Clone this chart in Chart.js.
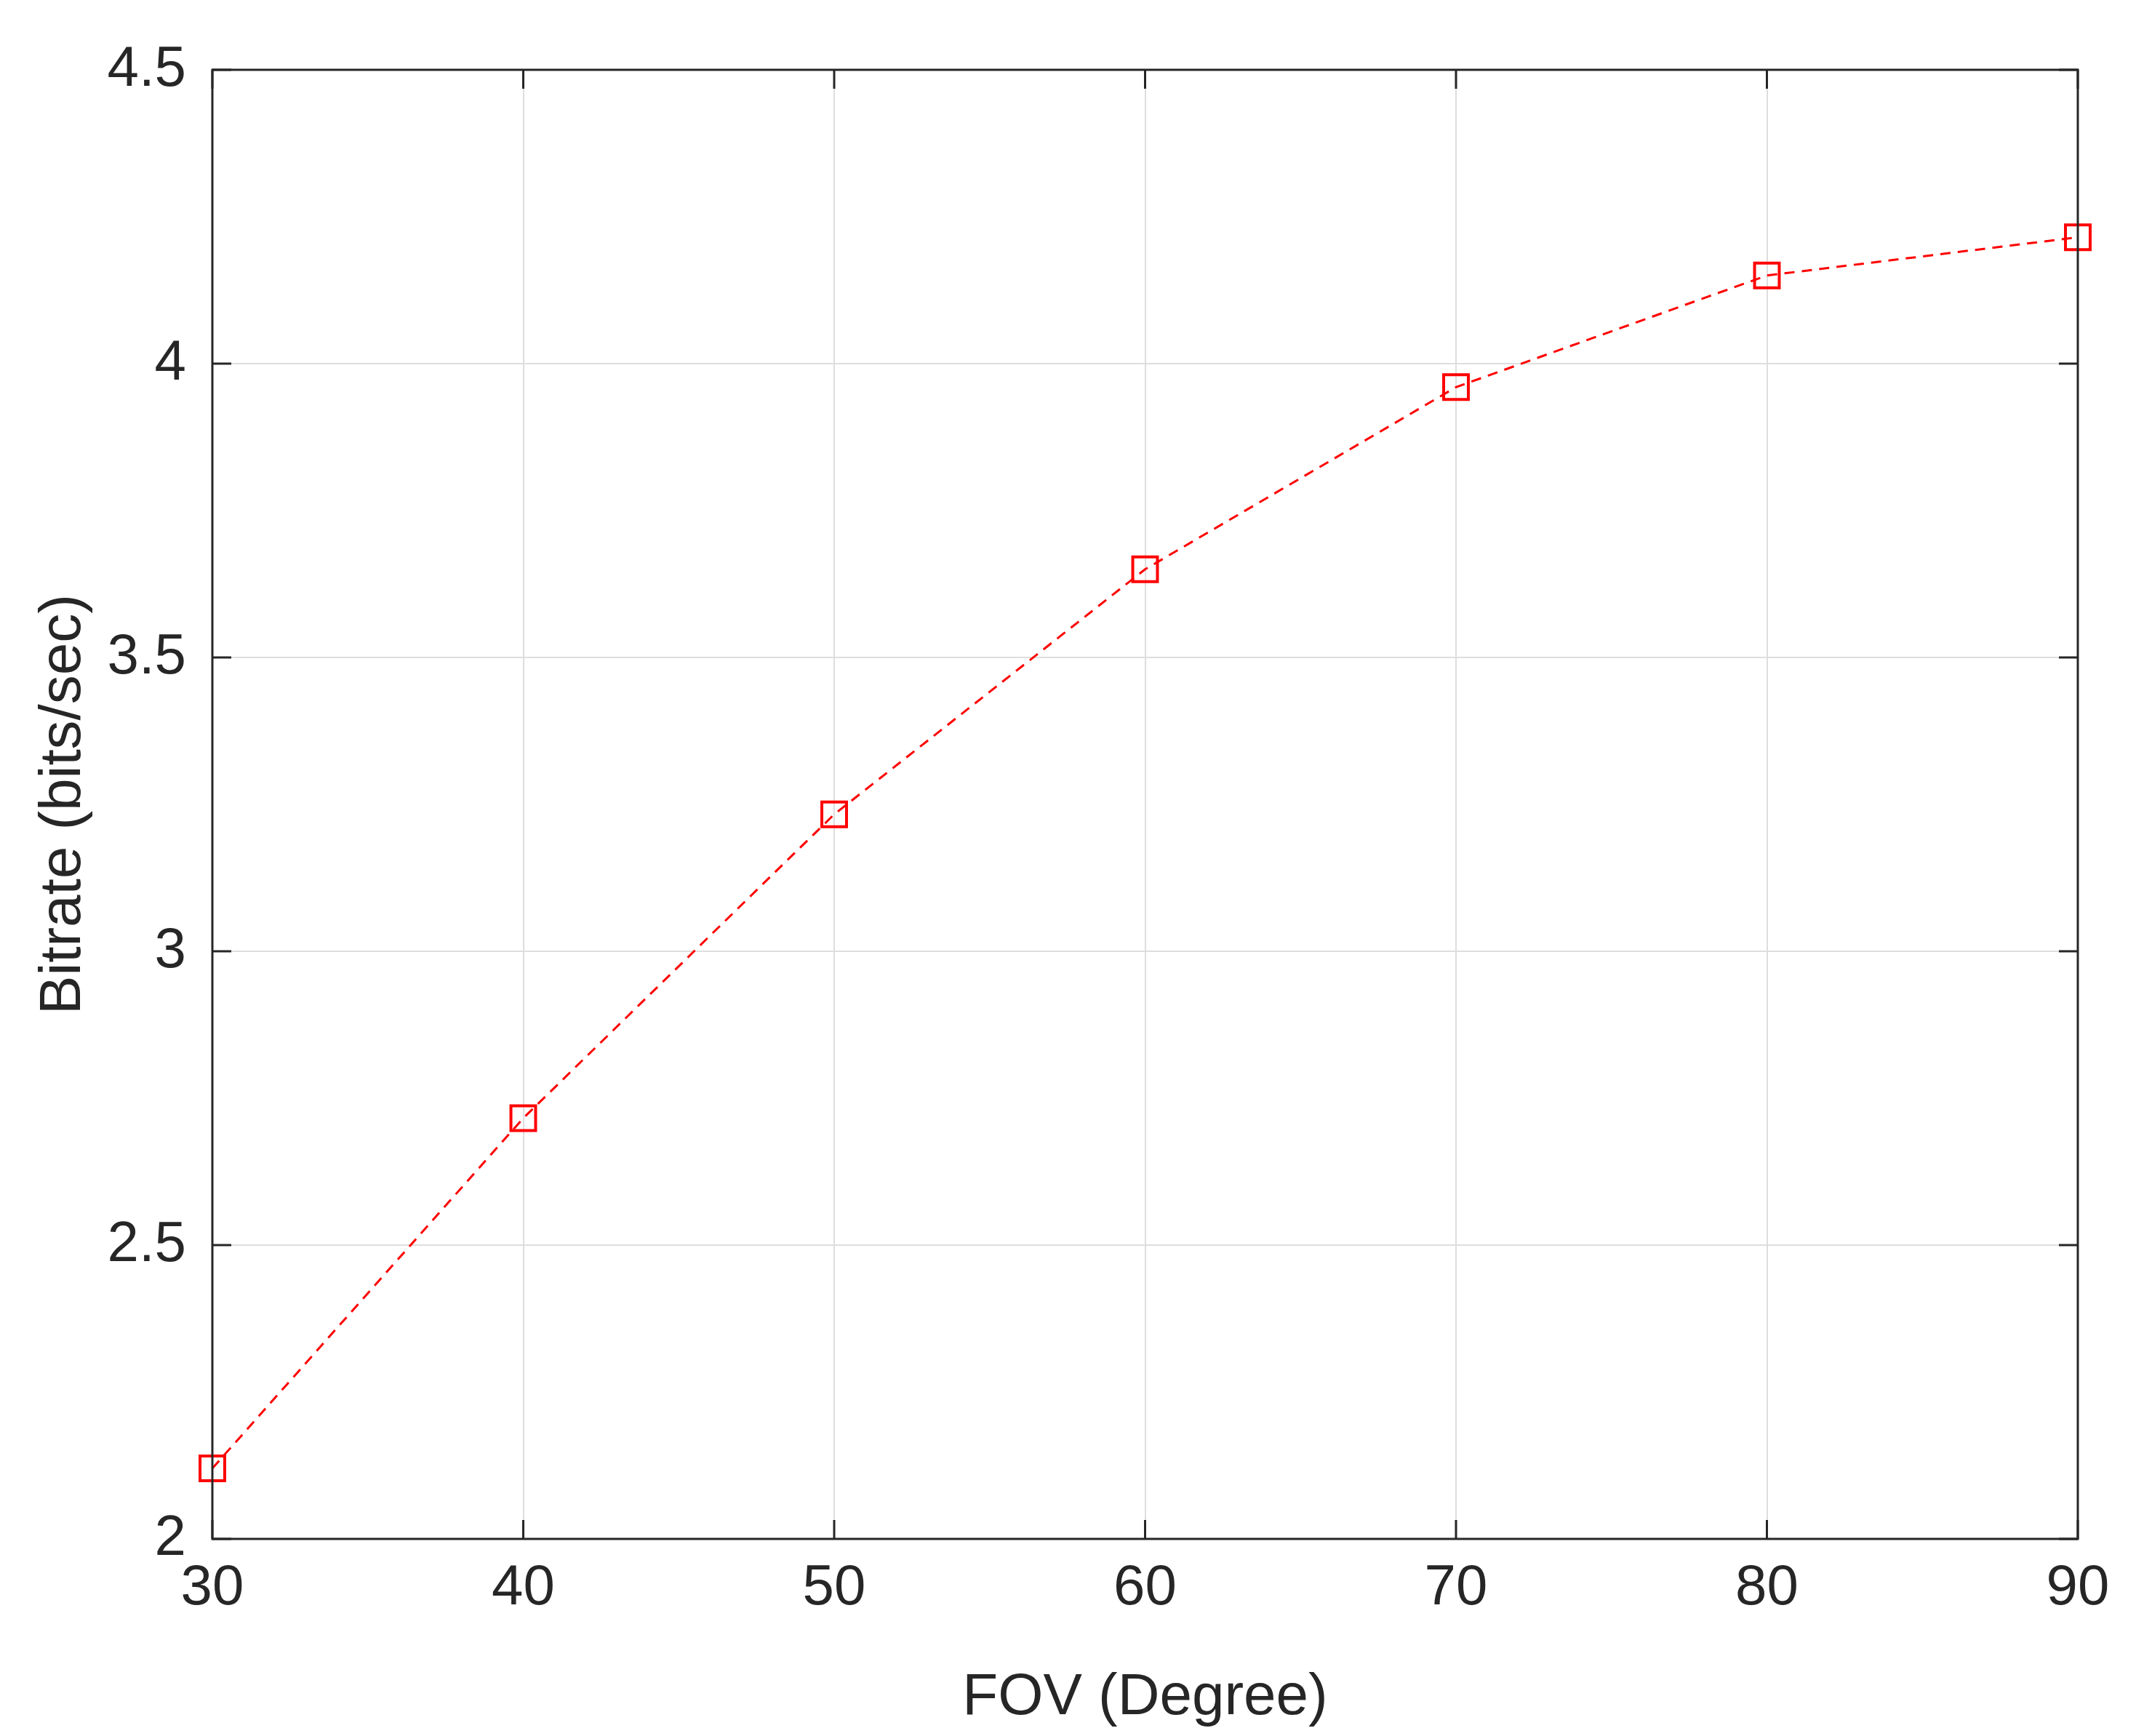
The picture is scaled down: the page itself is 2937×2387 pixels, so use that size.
<!DOCTYPE html>
<html><head><meta charset="utf-8">
<script src="https://cdn.jsdelivr.net/npm/chart.js@4"></script>
<style>html,body{margin:0;padding:0;background:#fff}#w{width:2937px;height:2387px}</style>
</head><body><div id="w"><canvas id="c" width="2937" height="2387"></canvas></div>
<script>
const fovValues = [30, 40, 50, 60, 70, 80, 90];
const bitrateValues = [2.12, 2.716, 3.233, 3.65, 3.96, 4.15, 4.215];
const xTicks = [30, 40, 50, 60, 70, 80, 90];
const yTicks = [2, 2.5, 3, 3.5, 4, 4.5];
const xTitle = 'FOV (Degree)';
const yTitle = 'Bitrate (bits/sec)';

const frame = {
  id: 'frame',
  afterDraw(ch) {
    const {ctx, chartArea: a, scales: {x, y}} = ch;
    ctx.save();
    ctx.strokeStyle = '#262626'; ctx.lineWidth = 3;
    ctx.strokeRect(a.left, a.top, a.right - a.left, a.bottom - a.top);
    const L = 26;
    ctx.beginPath();
    xTicks.forEach(v => { const p = x.getPixelForValue(v);
      ctx.moveTo(p, a.bottom); ctx.lineTo(p, a.bottom - L);
      ctx.moveTo(p, a.top); ctx.lineTo(p, a.top + L); });
    yTicks.forEach(v => { const p = y.getPixelForValue(v);
      ctx.moveTo(a.left, p); ctx.lineTo(a.left + L, p);
      ctx.moveTo(a.right, p); ctx.lineTo(a.right - L, p); });
    ctx.stroke();
    ctx.restore();
  }
};

new Chart(document.getElementById('c'), {
  type: 'line',
  data: { datasets: [{
    data: fovValues.map((v, i) => ({x: v, y: bitrateValues[i]})),
    borderColor: '#ff0000', borderWidth: 3, borderDash: [14, 10],
    pointStyle: 'rect', pointRadius: 24, pointBorderWidth: 4,
    pointBorderColor: '#ff0000', pointBackgroundColor: 'rgba(0,0,0,0)',
    tension: 0, fill: false, clip: false
  }]},
  options: {
    responsive: false, animation: false, devicePixelRatio: 1,
    layout: { padding: { top: 96, right: 80, left: 0, bottom: 0 } },
    plugins: { legend: { display: false }, tooltip: { enabled: false } },
    scales: {
      x: { type: 'linear', min: 30, max: 90,
        afterBuildTicks: s => { s.ticks = xTicks.map(v => ({value: v})); },
        afterFit: s => { s.height = 271; },
        grid: { color: '#dedede', lineWidth: 2, drawTicks: false },
        border: { display: false },
        ticks: { color: '#262626', padding: 22, maxRotation: 0,
          callback: v => String(v),
          font: { family: 'Liberation Sans, Arial', size: 78 } },
        title: { display: true, text: xTitle, color: '#262626', padding: { top: 6 },
          font: { family: 'Liberation Sans, Arial', size: 80 } } },
      y: { type: 'linear', min: 2, max: 4.5,
        afterBuildTicks: s => { s.ticks = yTicks.map(v => ({value: v})); },
        afterFit: s => { s.width = 292; },
        grid: { color: '#dedede', lineWidth: 2, drawTicks: false },
        border: { display: false },
        ticks: { color: '#262626', padding: 36,
          callback: v => String(v),
          font: { family: 'Liberation Sans, Arial', size: 78 } },
        title: { display: true, text: yTitle, color: '#262626', padding: { top: 40, bottom: 20 },
          font: { family: 'Liberation Sans, Arial', size: 80 } } }
    }
  },
  plugins: [frame]
});
</script></body></html>
